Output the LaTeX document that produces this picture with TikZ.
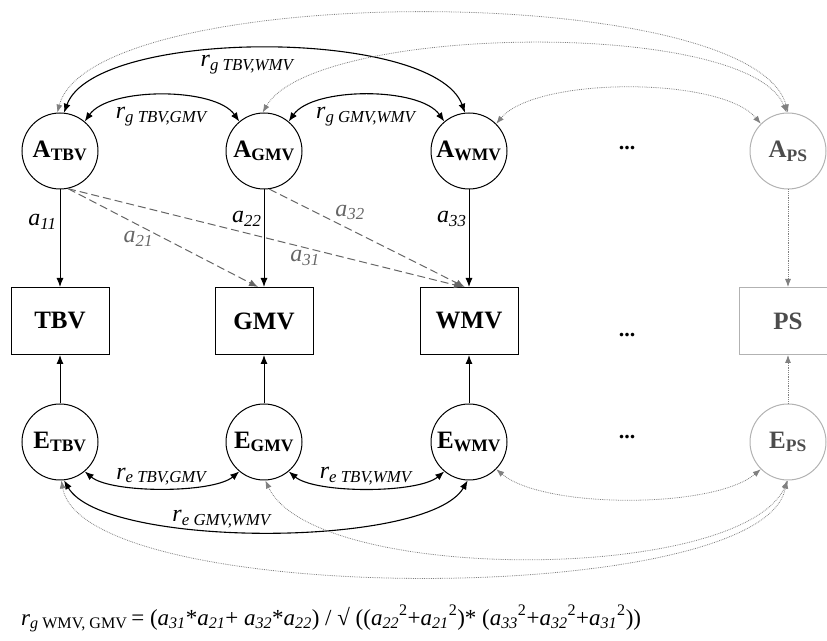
\documentclass[tikz,border=0pt]{standalone}
\usepackage{fontspec}
\setmainfont{Liberation Serif}
\usetikzlibrary{arrows.meta}

\newcommand{\ai}[1]{\textit{a}\textsubscript{\textit{#1}}}
\newcommand{\rg}[1]{\textit{r}\textsubscript{\textit{#1}}}

\begin{document}
\begin{tikzpicture}[x=1pt,y=1pt,
  >={Latex[length=9pt,width=7pt]},
  latent/.style={draw,circle,line width=1pt,minimum size=76pt,inner sep=0pt,font=\fontsize{25}{28}\selectfont\bfseries},
  observed/.style={draw,rectangle,line width=1pt,minimum width=98pt,minimum height=67pt,font=\fontsize{25}{28}\selectfont\bfseries},
  ghost/.style={draw=black!30,text=black!70},
  path/.style={->,line width=1pt},
  faintpath/.style={-{Latex[length=8pt,width=6pt]},draw=black!50,densely dotted,line width=.8pt},
  cross/.style={->,draw=black!60,line width=1pt,dash pattern=on 8pt off 4pt},
  cov/.style={<->,line width=1.1pt},
  faint/.style={{Latex[length=8pt,width=6pt]}-{Latex[length=8pt,width=6pt]},draw=black!50,densely dotted,line width=.8pt},
  lab/.style={font=\fontsize{24}{26}\selectfont,inner sep=1pt},
  crosslab/.style={lab,text=black!60},
  dots/.style={font=\fontsize{22}{24}\selectfont\bfseries,anchor=base}
]
\useasboundingbox (0,0) rectangle (827,640);

\node[latent] (ATBV) at (60,489) {A\textsubscript{TBV}};
\node[latent] (AGMV) at (264,489) {A\textsubscript{GMV}};
\node[latent] (AWMV) at (469,489) {A\textsubscript{WMV}};
\node[dots] (Adots) at (627,490) {...};
\node[latent,ghost] (APS) at (788,489) {A\textsubscript{PS}};

\node[observed] (TBV) at (60,319) {TBV};
\node[observed] (GMV) at (264,319) {GMV};
\node[observed] (WMV) at (469,319) {WMV};
\node[dots] (Odots) at (627,303) {...};
\node[observed,ghost] (PS) at (788,319) {PS};

\node[latent] (ETBV) at (60,198) {E\textsubscript{TBV}};
\node[latent] (EGMV) at (264,198) {E\textsubscript{GMV}};
\node[latent] (EWMV) at (469,198) {E\textsubscript{WMV}};
\node[dots] (Edots) at (627,201) {...};
\node[latent,ghost] (EPS) at (788,198) {E\textsubscript{PS}};

\draw[path] (ATBV) -- node[lab,left=2pt,pos=.33]{\ai{11}} (TBV);
\draw[path] (AGMV) -- node[lab,left=1pt,pos=.3]{\ai{22}} (GMV);
\draw[path] (AWMV) -- node[lab,left=1pt,pos=.3]{\ai{33}} (WMV);
\draw[faintpath] (APS) -- (PS);
\draw[path] (ETBV) -- (TBV);
\draw[path] (EGMV) -- (GMV);
\draw[path] (EWMV) -- (WMV);
\draw[faintpath] (EPS) -- (PS);

\draw[cross] (ATBV.-78) -- node[crosslab,pos=.37,below=5pt]{\ai{21}} (GMV.100);
\draw[cross] (ATBV.-78) -- node[crosslab,pos=.6,below=1pt]{\ai{31}} (WMV.100);
\draw[cross] (AGMV.-82) -- node[crosslab,pos=.33,above right]{\ai{32}} (WMV.97);

\draw[cov] (ATBV.50) to[out=55,in=125,looseness=.7] node[lab,below=10pt]{\rg{g TBV,GMV}} (AGMV.130);
\draw[cov] (AGMV.50) to[out=55,in=125,looseness=.7] node[lab,below=10pt]{\rg{g GMV,WMV}} (AWMV.130);
\draw[cov] (ATBV.84) to[out=70,in=110,looseness=.58] node[lab,below=5pt,pos=.47]{\rg{g TBV,WMV}} (AWMV.96);
\draw[faint] (ATBV.94) to[out=75,in=105,looseness=.48] (APS.90);
\draw[faint] (AGMV.92) to[out=60,in=112,looseness=.5] (APS.92);
\draw[faint] (AWMV.45) to[out=50,in=130,looseness=.6] (APS.135);

\draw[cov] (ETBV.-50) to[out=-40,in=-140,looseness=.57] node[lab,above=1pt]{\rg{e TBV,GMV}} (EGMV.-130);
\draw[cov] (EGMV.-50) to[out=-40,in=-140,looseness=.57] node[lab,above=2pt]{\rg{e TBV,WMV}} (EWMV.-130);
\draw[cov] (ETBV.-84) to[out=-60,in=-120,looseness=.5] node[lab,above=1pt,pos=.42]{\rg{e GMV,WMV}} (EWMV.-92);
\draw[faint] (EWMV.-45) to[out=-40,in=-140,looseness=.6] (EPS.-135);
\draw[faint] (EGMV.-88) to[out=-65,in=-115,looseness=.56] (EPS.-90);
\draw[faint] (ETBV.-88) to[out=-80,in=-100,looseness=.46] (EPS.-92);

\node[lab,font=\fontsize{23}{26}\selectfont,anchor=base west] (formula) at (20,15) {\textit{r}\textsubscript{\textit{g} WMV, GMV}\,= (\ai{31}*\ai{21}+ \ai{32}*\ai{22}) / √ ((\ai{22}\textsuperscript{2}+\ai{21}\textsuperscript{2})* (\ai{33}\textsuperscript{2}+\ai{32}\textsuperscript{2}+\ai{31}\textsuperscript{2}))};
\end{tikzpicture}
\end{document}
